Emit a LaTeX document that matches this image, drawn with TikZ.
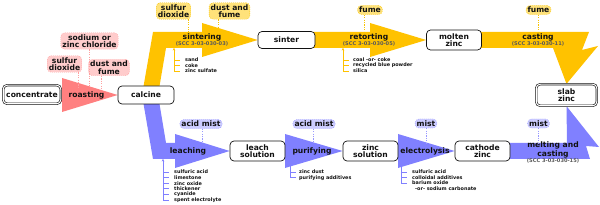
\documentclass[tikz,border=0pt]{standalone}
\usepackage{fontspec}
\setmainfont{DejaVu Sans}
\usetikzlibrary{arrows.meta,positioning,backgrounds}
\definecolor{znInk}{HTML}{111111}
\definecolor{znYellow}{HTML}{FFC200}
\definecolor{znYellowLt}{HTML}{FFE27A}
\definecolor{znYellowDk}{HTML}{F7C300}
\definecolor{znBlue}{HTML}{8080FF}
\definecolor{znBlueLt}{HTML}{CCCCFF}
\definecolor{znBlueDk}{HTML}{9999FF}
\definecolor{znRed}{HTML}{FF8080}
\definecolor{znRedLt}{HTML}{FFCCCC}
\definecolor{znRedDk}{HTML}{FF9F9F}
\tikzset{
  % Product box (white, rounded)
  proc/.style={rectangle,rounded corners=4pt,
    minimum width=55pt,minimum height=20pt,inner sep=1pt,
    align=center,draw=znInk,line width=0.7pt,fill=white,
    font=\fontsize{7.6}{7.4}\selectfont\bfseries,text=znInk},
  % Start / end product (double border)
  dproc/.style={proc,double,double distance=1.1pt,line width=0.6pt},
  % Emission bubbles
  rbub/.style={rectangle,rounded corners=4pt,inner sep=1.6pt,
    align=center,draw=znRedDk,fill=znRedLt,dash pattern=on 1pt off 1pt,
    font=\fontsize{7.6}{7.4}\selectfont\bfseries,text=znInk},
  ybub/.style={rbub,draw=znYellowDk,fill=znYellowLt},
  bbub/.style={rbub,draw=znBlueDk,fill=znBlueLt},
  % Operation labels on the wide arrows
  op/.style={inner sep=0pt,align=center,
    font=\fontsize{7.6}{6.8}\selectfont\bfseries,text=znInk},
  scc/.style={inner sep=0pt,font=\fontsize{5.1}{5.5}\selectfont\bfseries,
    text=black!65},
  % Feed material lists
  inp/.style={anchor=west,inner sep=0pt,
    font=\fontsize{4.9}{5.5}\selectfont\bfseries,text=znInk},
  yfeed/.style={draw=znYellow,line width=0.6pt,
    >={Stealth[length=2.5pt,width=2.6pt]}},
  bfeed/.style={yfeed,draw=znBlue},
  % Dashed emission links
  rdash/.style={draw=znRedDk,line width=0.6pt,dash pattern=on 1.2pt off 1.2pt},
  ydash/.style={rdash,draw=znYellowDk},
  bdash/.style={rdash,draw=znBlueDk},
}
\begin{document}
\begin{tikzpicture}[x=1pt,y=-1pt]
  \useasboundingbox (0,0) rectangle (600,205);

  % products
  \node[dproc,minimum width=57.6pt,minimum height=18.6pt] (conc) at (32,94.5)
    {concentrate};
  \node[proc,minimum width=56pt,minimum height=18pt] (calcine) at (146,95)
    {calcine};
  \node[proc,minimum width=57pt,minimum height=17pt] (sinter) at (286.5,40)
    {sinter};
  \node[proc] (molten) at (454,40) {molten\\zinc};
  \node[dproc,minimum width=60.6pt,minimum height=21.6pt] (slab) at (566.5,95)
    {slab\\zinc};
  \node[proc] (leach) at (257.5,151) {leach\\solution};
  \node[proc] (zincsol) at (370.5,151) {zinc\\solution};
  \node[proc] (cathode) at (482.5,151) {cathode\\zinc};

  % wide process arrows
  \begin{scope}[on background layer]
    \fill[znRed] (32,88) -- (62,88) -- (62,78) -- (calcine.west)
      -- (62,112) -- (62,102) -- (32,102) -- cycle;
    \fill[znYellow] (142,95) -- (153,32) -- (202,32) -- (202,23)
      -- (sinter.west) -- (202,57) -- (202,48) -- (166,48) -- (158,95) -- cycle;
    \fill[znYellow] (310,32) -- (370,32) -- (370,23) -- (molten.west)
      -- (370,57) -- (370,48) -- (310,48) -- cycle;
    \fill[znYellow] (478,32) -- (589,32) -- (582,50) -- (598,46)
      -- (slab.north) -- (553,48) -- (478,48) -- cycle;
    \fill[znBlue] (142,95) -- (153,159) -- (175,159) -- (175,168)
      -- (leach.west) -- (175,134) -- (175,143) -- (166,143) -- (158,95) -- cycle;
    \fill[znBlue] (280,143) -- (285,143) -- (285,134) -- (zincsol.west)
      -- (285,168) -- (285,159) -- (280,159) -- cycle;
    \fill[znBlue] (393,143) -- (398,143) -- (398,134) -- (cathode.west)
      -- (398,168) -- (398,159) -- (393,159) -- cycle;
    \fill[znBlue] (505,143) -- (567,143) -- (slab.south) -- (599,147)
      -- (586,146) -- (590,159) -- (505,159) -- cycle;
  \end{scope}

  % operations
  \node[op] (roasting) at (86.5,95) {roasting};
  \node[op] (sintering) at (202,37.5) {sintering};
  \node[scc,below=0.5pt of sintering] (sinscc) {(SCC 3-03-030-03)};
  \node[op] (retorting) at (369,37.5) {retorting};
  \node[scc,below=0.5pt of retorting] (retscc) {(SCC 3-03-030-05)};
  \node[op] (casting) at (538,37.5) {casting};
  \node[scc,below=0.5pt of casting] (casscc) {(SCC 3-03-030-11)};
  \node[op] (leaching) at (188,151) {leaching};
  \node[op] (purifying) at (312,151) {purifying};
  \node[op] (electro) at (425,151) {electrolysis};
  \node[op] (melting) at (553,150) {melting and\\casting};
  \node[scc,below=0.5pt of melting] (melscc) {(SCC 3-03-030-15)};

  % emissions
  \node[rbub] (rchl) at (89.5,41) {sodium or\\zinc chloride};
  \node[rbub] (rso2) at (64.5,64) {sulfur\\dioxide};
  \node[rbub] (rdust) at (109,67.5) {dust and\\fume};
  \node[ybub] (yso2) at (173.5,11) {sulfur\\dioxide};
  \node[ybub] (ydust) at (229.5,11) {dust and\\fume};
  \node[ybub] (yfume) at (370,10) {fume};
  \node[ybub] (cfume) at (538.5,10) {fume};
  \node[bbub] (lmist) at (201,124) {acid mist};
  \node[bbub] (pmist) at (314,124) {acid mist};
  \node[bbub] (emist) at (426,123.5) {mist};
  \node[bbub] (mmist) at (538.5,123.5) {mist};

  \coordinate (rso2tap) at (78,87);
  \coordinate (rchltap) at (89,87);
  \coordinate (rdusttap) at (101,88);
  \coordinate (yso2tap) at (188,32);
  \coordinate (ydusttap) at (218,27);
  \coordinate (yfumetap) at (364,32);
  \coordinate (cfumetap) at (538,32);
  \coordinate (lmisttap) at (202,142);
  \coordinate (pmisttap) at (313,142);
  \coordinate (emisttap) at (426,143);
  \coordinate (mmisttap) at (538,143);
  \draw[rdash] (rso2.south -| rso2tap) -- (rso2tap);
  \draw[rdash] (rchl.south -| rchltap) -- (rchltap);
  \draw[rdash] (rdust.south -| rdusttap) -- (rdusttap);
  \draw[ydash] (yso2.south -| yso2tap) -- (yso2tap);
  \draw[ydash] (ydust.south -| ydusttap) -- (ydusttap);
  \draw[ydash] (yfume.south -| yfumetap) -- (yfumetap);
  \draw[ydash] (cfume.south -| cfumetap) -- (cfumetap);
  \draw[bdash] (lmist.south -| lmisttap) -- (lmisttap);
  \draw[bdash] (pmist.south -| pmisttap) -- (pmisttap);
  \draw[bdash] (emist.south -| emisttap) -- (emisttap);
  \draw[bdash] (mmist.south -| mmisttap) -- (mmisttap);

  % feed materials
  \coordinate (sinfeed) at (174,48);
  \foreach \t [count=\i] in {sand,coke,zinc sulfate}
    \node[inp] (sin\i) at (185,{54.5+5.5*\i}) {\t};
  \draw[yfeed,<-] (sinfeed) -- (sinfeed |- sin3.west);
  \foreach \i in {1,2,3} \draw[yfeed] (sinfeed |- sin\i.west) -- ++(6,0);

  \coordinate (retfeed) at (343,48);
  \foreach \t [count=\i] in {coal -or- coke,recycled blue powder,silica}
    \node[inp] (ret\i) at (353,{54.5+5.5*\i}) {\t};
  \draw[yfeed,<-] (retfeed) -- (retfeed |- ret3.west);
  \foreach \i in {1,2,3} \draw[yfeed] (retfeed |- ret\i.west) -- ++(6,0);

  \coordinate (leafeed) at (163,159);
  \foreach \t [count=\i] in {sulfuric acid,limestone,zinc oxide,thickener,
      cyanide,spent electrolyte}
    \node[inp] (lea\i) at (174,{166.4+5.6*\i}) {\t};
  \draw[bfeed,<-] (leafeed) -- (leafeed |- lea6.west);
  \foreach \i in {1,...,6} \draw[bfeed] (leafeed |- lea\i.west) -- ++(6,0);

  \coordinate (purfeed) at (290,159);
  \foreach \t [count=\i] in {zinc dust,purifying additives}
    \node[inp] (pur\i) at (299,{166.2+5.8*\i}) {\t};
  \draw[bfeed,<-] (purfeed) -- (purfeed |- pur2.west);
  \foreach \i in {1,2} \draw[bfeed] (purfeed |- pur\i.west) -- ++(6,0);

  \coordinate (elefeed) at (401,159);
  \foreach \t [count=\i] in {sulfuric acid,colloidal additives,barium oxide}
    \node[inp] (ele\i) at (412,{166.5+5.5*\i}) {\t};
  \node[inp] (ele4) at (415,188.5) {-or- sodium carbonate};
  \draw[bfeed,<-] (elefeed) -- (elefeed |- ele3.west);
  \foreach \i in {1,2,3} \draw[bfeed] (elefeed |- ele\i.west) -- ++(6,0);
\end{tikzpicture}
\end{document}
